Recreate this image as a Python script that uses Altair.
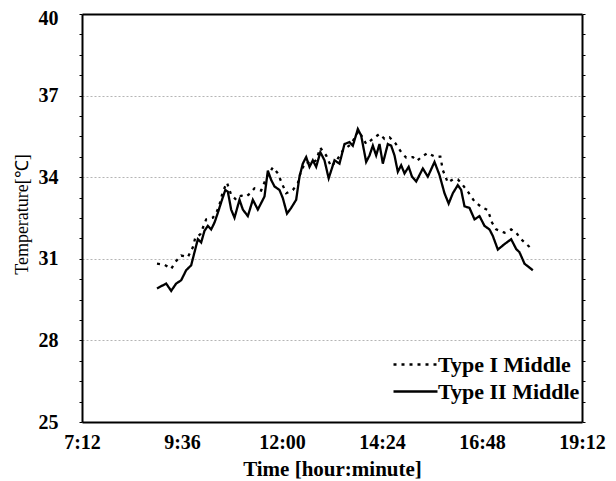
import altair as alt
import pandas as pd

# Time in decimal hours, temperature in degC
type1_time = [9.00, 9.18, 9.34, 9.44, 9.58, 9.74, 9.86, 9.92, 10.04, 10.18,
              10.34, 10.44, 10.50, 10.58, 10.68, 10.78, 10.90, 11.02, 11.14, 11.24,
              11.34, 11.50, 11.62, 11.78, 11.90, 11.98, 12.10, 12.26, 12.38, 12.46,
              12.58, 12.70, 12.82, 12.92, 13.06, 13.18, 13.32, 13.46, 13.66, 13.84,
              14.02, 14.18, 14.34, 14.46, 14.58, 14.72, 14.86, 14.98, 15.14, 15.24,
              15.36, 15.50, 15.66, 15.80, 15.86, 15.98, 16.10, 16.22, 16.34, 16.46,
              16.62, 16.78, 16.94, 17.04, 17.14, 17.34, 17.50, 17.62, 17.74, 17.98]
type1_temp = [30.82, 30.78, 30.63, 30.88, 31.12, 31.06, 31.42, 31.78, 31.90, 32.45,
              32.51, 32.75, 32.99, 33.47, 33.80, 33.35, 33.17, 33.32, 33.29, 33.41,
              33.59, 33.51, 33.96, 34.36, 34.14, 33.84, 33.41, 33.53, 33.78, 34.26,
              34.56, 34.50, 34.62, 35.08, 34.80, 34.38, 34.64, 34.98, 35.22, 35.71,
              35.22, 35.41, 35.59, 35.41, 35.47, 35.25, 34.92, 34.72, 34.74, 34.60,
              34.76, 34.89, 34.76, 34.76, 34.26, 33.80, 33.92, 33.92, 33.71, 33.47,
              33.11, 32.91, 32.79, 32.33, 32.08, 31.96, 32.08, 31.96, 31.72, 31.38]

type2_time = [9.00, 9.22, 9.34, 9.46, 9.58, 9.70, 9.82, 9.90, 9.98, 10.06,
              10.14, 10.22, 10.30, 10.38, 10.46, 10.56, 10.64, 10.70, 10.78, 10.86,
              10.98, 11.06, 11.18, 11.30, 11.42, 11.58, 11.66, 11.74, 11.82, 11.94,
              12.02, 12.12, 12.22, 12.34, 12.42, 12.50, 12.58, 12.66, 12.74, 12.82,
              12.92, 13.02, 13.12, 13.26, 13.38, 13.50, 13.62, 13.70, 13.82, 13.90,
              14.02, 14.10, 14.18, 14.26, 14.34, 14.42, 14.54, 14.62, 14.70, 14.78,
              14.86, 14.94, 15.04, 15.12, 15.22, 15.38, 15.50, 15.66, 15.78, 15.90,
              16.00, 16.10, 16.22, 16.30, 16.38, 16.50, 16.62, 16.74, 16.86, 16.98,
              17.06, 17.18, 17.34, 17.50, 17.62, 17.70, 17.82, 18.02]
type2_temp = [29.91, 30.09, 29.82, 30.09, 30.21, 30.58, 30.76, 31.24, 31.72, 31.60,
              32.03, 32.21, 32.08, 32.33, 32.69, 33.17, 33.53, 33.47, 32.81, 32.51,
              33.17, 32.81, 32.57, 33.17, 32.81, 33.29, 34.24, 33.90, 33.66, 33.53,
              33.23, 32.66, 32.87, 33.17, 34.02, 34.50, 34.74, 34.38, 34.62, 34.38,
              34.92, 34.62, 33.96, 34.62, 34.50, 35.22, 35.29, 35.16, 35.77, 35.53,
              34.56, 34.80, 35.16, 34.80, 35.22, 34.50, 35.22, 35.16, 34.80, 34.20,
              34.44, 34.14, 34.38, 34.02, 33.84, 34.32, 34.02, 34.56, 34.08, 33.41,
              33.03, 33.41, 33.71, 33.53, 32.93, 32.87, 32.45, 32.57, 32.21, 32.08,
              31.84, 31.34, 31.54, 31.72, 31.36, 31.24, 30.82, 30.58]

series_names = ["Type I Middle", "Type II Middle"]
x_ticks = [7.2, 9.6, 12.0, 14.4, 16.8, 19.2]
y_minor_ticks = [25, 25.75, 26.5, 27.25, 28, 28.75, 29.5, 30.25, 31, 31.75, 32.5,
                 33.25, 34, 34.75, 35.5, 36.25, 37, 37.75, 38.5, 39.25, 40]

df = pd.concat([
    pd.DataFrame({"time": type1_time, "temp": type1_temp, "series": series_names[0]}),
    pd.DataFrame({"time": type2_time, "temp": type2_temp, "series": series_names[1]}),
])

FONT = "Liberation Serif"
label_expr = ("floor(datum.value) + ':' + "
              "(round((datum.value - floor(datum.value)) * 60) < 10 ? '0' : '') + "
              "round((datum.value - floor(datum.value)) * 60)")
major = "datum.value % 3 == 1"

y_scale = alt.Scale(domain=[25, 40], nice=False, zero=False)
x_scale = alt.Scale(domain=[7.2, 19.2], nice=False, zero=False)
FRAME = dict(domain=True, domainColor="black", domainWidth=2)

lines = alt.Chart(df).mark_line(color="black", strokeWidth=2.3).encode(
    x=alt.X("time:Q", scale=x_scale,
            axis=alt.Axis(values=x_ticks, labelExpr=label_expr, ticks=False,
                          grid=False, labelFont=FONT, labelFontSize=20, labelFontWeight="bold",
                          labelColor="black", labelPadding=10, labelFlush=False,
                          labelOverlap=False,
                          title="Time [hour:minute]", titleFont=FONT, titleFontSize=21,
                          titleFontWeight="bold", titleColor="black", titleX=250, titleY=53,
                          titleBaseline="alphabetic", titleAlign="center", **FRAME)),
    y=alt.Y("temp:Q", scale=y_scale,
            axis=alt.Axis(values=y_minor_ticks, ticks=True, tickSize=3, tickColor="black",
                          tickWidth=1, grid=True,
                          gridDash=[2, 2], gridColor="#b5b5b5", gridWidth=1,
                          gridOpacity={"condition": {"test": major, "value": 1}, "value": 0},
                          labelExpr="datum.value % 3 == 1 ? datum.label : ''",
                          labelOffset={"condition": {"test": "datum.value == 40", "value": 4},
                                       "value": 0},
                          labelFont=FONT, labelFontSize=20, labelFontWeight="bold",
                          labelColor="black", labelPadding=21, labelOverlap=False,
                          title="Temperature[℃]", titleFont=FONT, titleFontSize=18,
                          titleFontWeight="normal", titleColor="black", titleAngle=270,
                          titleX=-60, titleY=200, titleBaseline="middle",
                          titleAlign="center", **FRAME)),
    strokeDash=alt.StrokeDash("series:N",
                              scale=alt.Scale(domain=series_names, range=[[3, 5], [1, 0]]),
                              legend=alt.Legend(title=None, orient="none", legendX=321,
                                                legendY=338, symbolType="M-2,0H2",
                                                symbolSize=484, symbolStrokeWidth=2.5,
                                                symbolStrokeColor="black",
                                                labelFont=FONT, labelFontSize=22,
                                                labelFontWeight="bold", labelColor="black",
                                                labelOffset=10, rowPadding=3, padding=0)),
)

# right and top edges of the frame, with minor ticks on the right
edges = alt.Chart(pd.DataFrame({"temp": y_minor_ticks, "time": [12.0] * len(y_minor_ticks)})
                  ).mark_point(opacity=0).encode(
    x=alt.X("time:Q", scale=x_scale,
            axis=alt.Axis(orient="top", labels=False, ticks=False, grid=False, title=None,
                          **FRAME)),
    y=alt.Y("temp:Q", scale=y_scale,
            axis=alt.Axis(orient="right", values=y_minor_ticks, labels=False,
                          grid=False, ticks=True, tickSize=3, tickColor="black",
                          tickWidth=1, title=None, **FRAME)),
)

chart = alt.layer(lines, edges).resolve_axis(x="independent", y="independent").properties(
    width=500,
    height=408,
    padding={"left": 74, "top": 6, "right": 26, "bottom": 58},
    autosize=alt.AutoSizeParams(type="none"),
    background="white",
).configure_view(
    stroke=None
)

chart.save("out.html", embed_options={"renderer": "svg", "actions": False})
